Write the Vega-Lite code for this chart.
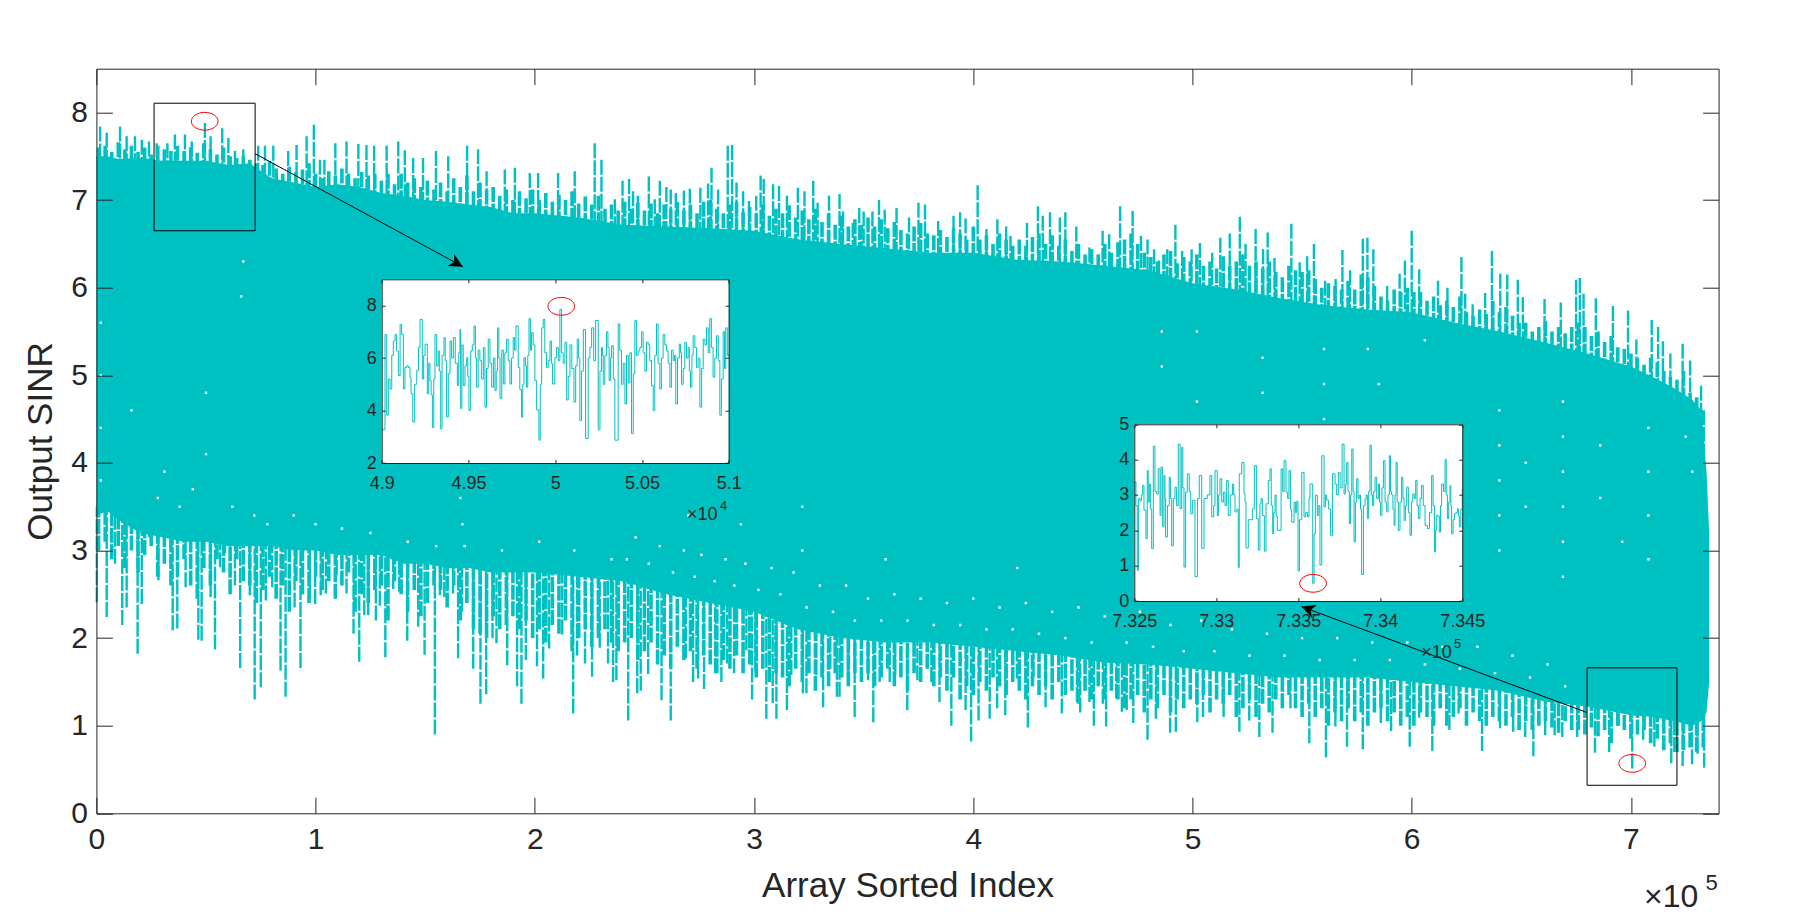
{
"$schema":"https://vega.github.io/schema/vega-lite/v6.json",
"autosize":"none",
"width":1622.2,
"height":744.6,
"padding":{"left":96.4,"top":68.7,"right":88.4,"bottom":102.7},
"background":"white",
"config":{"view":{"stroke":null},"font":"Liberation Sans","axis":{"grid":false,"domainColor":"#262626","tickColor":"#262626","labelColor":"#262626","titleColor":"#262626","labelFont":"Liberation Sans","titleFont":"Liberation Sans","titleFontWeight":"normal","labelFlush":false,"labelOverlap":false,"labelBound":false}},
"datasets":{
"upper":[{"idx":0.017,"sinr":7.84},{"idx":0.047,"sinr":7.77},{"idx":0.108,"sinr":7.84},{"idx":0.138,"sinr":7.73},{"idx":0.176,"sinr":7.73},{"idx":0.207,"sinr":7.69},{"idx":0.24,"sinr":7.67},{"idx":0.275,"sinr":7.65},{"idx":0.324,"sinr":7.65},{"idx":0.358,"sinr":7.75},{"idx":0.404,"sinr":7.75},{"idx":0.435,"sinr":7.67},{"idx":0.495,"sinr":7.88},{"idx":0.521,"sinr":7.73},{"idx":0.574,"sinr":7.82},{"idx":0.602,"sinr":7.71},{"idx":0.632,"sinr":7.56},{"idx":0.67,"sinr":7.58},{"idx":0.738,"sinr":7.62},{"idx":0.769,"sinr":7.62},{"idx":0.807,"sinr":7.62},{"idx":0.875,"sinr":7.56},{"idx":0.913,"sinr":7.63},{"idx":0.959,"sinr":7.73},{"idx":0.992,"sinr":7.86},{"idx":1.02,"sinr":7.46},{"idx":1.04,"sinr":7.46},{"idx":1.09,"sinr":7.65},{"idx":1.141,"sinr":7.67},{"idx":1.195,"sinr":7.64},{"idx":1.232,"sinr":7.63},{"idx":1.267,"sinr":7.62},{"idx":1.324,"sinr":7.62},{"idx":1.377,"sinr":7.67},{"idx":1.407,"sinr":7.57},{"idx":1.445,"sinr":7.48},{"idx":1.49,"sinr":7.48},{"idx":1.549,"sinr":7.56},{"idx":1.605,"sinr":7.5},{"idx":1.691,"sinr":7.62},{"idx":1.741,"sinr":7.58},{"idx":1.78,"sinr":7.33},{"idx":1.863,"sinr":7.35},{"idx":1.909,"sinr":7.37},{"idx":1.977,"sinr":7.31},{"idx":2.015,"sinr":7.31},{"idx":2.106,"sinr":7.31},{"idx":2.182,"sinr":7.33},{"idx":2.273,"sinr":7.65},{"idx":2.304,"sinr":7.46},{"idx":2.365,"sinr":7.01},{"idx":2.4,"sinr":7.22},{"idx":2.43,"sinr":7.24},{"idx":2.448,"sinr":7.1},{"idx":2.47,"sinr":7.05},{"idx":2.52,"sinr":7.27},{"idx":2.547,"sinr":7.01},{"idx":2.57,"sinr":7.22},{"idx":2.6,"sinr":7.15},{"idx":2.62,"sinr":7.12},{"idx":2.643,"sinr":7.08},{"idx":2.68,"sinr":7.11},{"idx":2.707,"sinr":7.13},{"idx":2.755,"sinr":7.14},{"idx":2.79,"sinr":7.19},{"idx":2.806,"sinr":7.37},{"idx":2.836,"sinr":7.12},{"idx":2.88,"sinr":7.62},{"idx":2.9,"sinr":7.63},{"idx":2.92,"sinr":7.2},{"idx":2.95,"sinr":7.1},{"idx":2.977,"sinr":6.99},{"idx":3.01,"sinr":7.05},{"idx":3.03,"sinr":7.28},{"idx":3.044,"sinr":7.24},{"idx":3.087,"sinr":7.18},{"idx":3.114,"sinr":7.16},{"idx":3.15,"sinr":7.05},{"idx":3.2,"sinr":7.14},{"idx":3.23,"sinr":7.1},{"idx":3.27,"sinr":7.22},{"idx":3.29,"sinr":6.97},{"idx":3.342,"sinr":7.05},{"idx":3.39,"sinr":7.07},{"idx":3.406,"sinr":6.87},{"idx":3.45,"sinr":6.74},{"idx":3.48,"sinr":6.91},{"idx":3.5,"sinr":6.87},{"idx":3.54,"sinr":6.87},{"idx":3.57,"sinr":7.0},{"idx":3.596,"sinr":6.89},{"idx":3.65,"sinr":6.91},{"idx":3.707,"sinr":6.8},{"idx":3.75,"sinr":6.97},{"idx":3.78,"sinr":6.95},{"idx":3.84,"sinr":6.76},{"idx":3.91,"sinr":6.82},{"idx":3.94,"sinr":6.86},{"idx":3.965,"sinr":6.79},{"idx":4.02,"sinr":7.17},{"idx":4.06,"sinr":6.67},{"idx":4.11,"sinr":6.78},{"idx":4.15,"sinr":6.7},{"idx":4.17,"sinr":6.59},{"idx":4.245,"sinr":6.74},{"idx":4.295,"sinr":6.93},{"idx":4.317,"sinr":6.82},{"idx":4.35,"sinr":6.86},{"idx":4.395,"sinr":6.8},{"idx":4.42,"sinr":6.86},{"idx":4.47,"sinr":6.7},{"idx":4.53,"sinr":6.46},{"idx":4.59,"sinr":6.65},{"idx":4.62,"sinr":6.61},{"idx":4.67,"sinr":6.93},{"idx":4.727,"sinr":6.875},{"idx":4.765,"sinr":6.59},{"idx":4.795,"sinr":6.55},{"idx":4.825,"sinr":6.44},{"idx":4.847,"sinr":6.31},{"idx":4.885,"sinr":6.44},{"idx":4.922,"sinr":6.72},{"idx":4.953,"sinr":6.42},{"idx":4.996,"sinr":6.44},{"idx":5.034,"sinr":6.51},{"idx":5.09,"sinr":6.4},{"idx":5.127,"sinr":6.57},{"idx":5.17,"sinr":6.62},{"idx":5.216,"sinr":6.81},{"idx":5.242,"sinr":6.5},{"idx":5.288,"sinr":6.67},{"idx":5.322,"sinr":6.44},{"idx":5.343,"sinr":6.63},{"idx":5.374,"sinr":6.34},{"idx":5.451,"sinr":6.73},{"idx":5.489,"sinr":6.29},{"idx":5.523,"sinr":6.36},{"idx":5.554,"sinr":6.5},{"idx":5.605,"sinr":6.08},{"idx":5.653,"sinr":6.1},{"idx":5.684,"sinr":6.43},{"idx":5.719,"sinr":6.2},{"idx":5.777,"sinr":6.56},{"idx":5.798,"sinr":6.57},{"idx":5.825,"sinr":6.44},{"idx":5.888,"sinr":6.02},{"idx":5.945,"sinr":6.16},{"idx":5.969,"sinr":6.31},{"idx":6.0,"sinr":6.65},{"idx":6.034,"sinr":6.21},{"idx":6.12,"sinr":6.08},{"idx":6.163,"sinr":6.0},{"idx":6.227,"sinr":6.35},{"idx":6.244,"sinr":5.93},{"idx":6.278,"sinr":5.81},{"idx":6.335,"sinr":5.94},{"idx":6.366,"sinr":6.42},{"idx":6.404,"sinr":6.16},{"idx":6.436,"sinr":6.15},{"idx":6.484,"sinr":6.09},{"idx":6.507,"sinr":5.89},{"idx":6.606,"sinr":5.87},{"idx":6.68,"sinr":5.83},{"idx":6.75,"sinr":6.09},{"idx":6.767,"sinr":6.11},{"idx":6.784,"sinr":5.93},{"idx":6.84,"sinr":5.88},{"idx":6.918,"sinr":5.79},{"idx":6.987,"sinr":5.74},{"idx":7.025,"sinr":5.41},{"idx":7.095,"sinr":5.63},{"idx":7.124,"sinr":5.55},{"idx":7.146,"sinr":5.39},{"idx":7.18,"sinr":5.25},{"idx":7.236,"sinr":5.36},{"idx":7.27,"sinr":5.17},{"idx":7.32,"sinr":4.88}],
"lower":[{"idx":0.002,"sinr":2.41},{"idx":0.047,"sinr":2.24},{"idx":0.085,"sinr":2.85},{"idx":0.118,"sinr":2.15},{"idx":0.138,"sinr":2.35},{"idx":0.188,"sinr":1.82},{"idx":0.207,"sinr":2.39},{"idx":0.24,"sinr":3.15},{"idx":0.283,"sinr":2.66},{"idx":0.348,"sinr":2.09},{"idx":0.369,"sinr":2.11},{"idx":0.407,"sinr":2.58},{"idx":0.465,"sinr":1.98},{"idx":0.48,"sinr":1.97},{"idx":0.521,"sinr":2.47},{"idx":0.541,"sinr":1.87},{"idx":0.564,"sinr":2.81},{"idx":0.587,"sinr":2.97},{"idx":0.632,"sinr":2.6},{"idx":0.656,"sinr":1.66},{"idx":0.7,"sinr":2.49},{"idx":0.722,"sinr":1.3},{"idx":0.75,"sinr":1.44},{"idx":0.773,"sinr":2.43},{"idx":0.802,"sinr":2.58},{"idx":0.84,"sinr":1.63},{"idx":0.863,"sinr":1.33},{"idx":0.904,"sinr":2.35},{"idx":0.931,"sinr":1.66},{"idx":0.974,"sinr":2.45},{"idx":0.998,"sinr":2.39},{"idx":1.023,"sinr":2.49},{"idx":1.047,"sinr":2.51},{"idx":1.096,"sinr":2.72},{"idx":1.141,"sinr":2.51},{"idx":1.173,"sinr":2.05},{"idx":1.199,"sinr":1.73},{"idx":1.222,"sinr":2.26},{"idx":1.24,"sinr":2.26},{"idx":1.275,"sinr":2.2},{"idx":1.293,"sinr":2.37},{"idx":1.318,"sinr":1.78},{"idx":1.354,"sinr":2.56},{"idx":1.381,"sinr":2.53},{"idx":1.418,"sinr":1.97},{"idx":1.468,"sinr":2.13},{"idx":1.497,"sinr":1.81},{"idx":1.544,"sinr":0.9},{"idx":1.567,"sinr":2.49},{"idx":1.587,"sinr":2.47},{"idx":1.627,"sinr":2.51},{"idx":1.65,"sinr":1.77},{"idx":1.668,"sinr":2.3},{"idx":1.719,"sinr":1.65},{"idx":1.752,"sinr":1.25},{"idx":1.778,"sinr":1.36},{"idx":1.807,"sinr":2.0},{"idx":1.825,"sinr":1.94},{"idx":1.874,"sinr":1.69},{"idx":1.919,"sinr":1.45},{"idx":1.939,"sinr":1.25},{"idx":1.959,"sinr":1.75},{"idx":2.01,"sinr":1.68},{"idx":2.038,"sinr":1.54},{"idx":2.065,"sinr":1.88},{"idx":2.125,"sinr":2.04},{"idx":2.175,"sinr":1.14},{"idx":2.193,"sinr":1.8},{"idx":2.229,"sinr":1.71},{"idx":2.261,"sinr":1.56},{"idx":2.296,"sinr":1.89},{"idx":2.334,"sinr":1.71},{"idx":2.357,"sinr":1.5},{"idx":2.372,"sinr":1.52},{"idx":2.426,"sinr":1.06},{"idx":2.467,"sinr":1.37},{"idx":2.483,"sinr":1.4},{"idx":2.517,"sinr":1.59},{"idx":2.578,"sinr":1.29},{"idx":2.62,"sinr":1.06},{"idx":2.689,"sinr":1.77},{"idx":2.722,"sinr":1.5},{"idx":2.745,"sinr":1.54},{"idx":2.772,"sinr":1.42},{"idx":2.822,"sinr":1.6},{"idx":2.851,"sinr":1.5},{"idx":2.877,"sinr":1.71},{"idx":2.909,"sinr":1.6},{"idx":2.965,"sinr":1.86},{"idx":2.991,"sinr":1.3},{"idx":3.006,"sinr":1.63},{"idx":3.056,"sinr":1.08},{"idx":3.085,"sinr":1.26},{"idx":3.102,"sinr":1.08},{"idx":3.15,"sinr":1.18},{"idx":3.17,"sinr":1.58},{"idx":3.223,"sinr":1.37},{"idx":3.239,"sinr":1.37},{"idx":3.284,"sinr":1.58},{"idx":3.315,"sinr":1.21},{"idx":3.348,"sinr":1.65},{"idx":3.378,"sinr":1.33},{"idx":3.39,"sinr":1.33},{"idx":3.429,"sinr":1.52},{"idx":3.459,"sinr":1.1},{"idx":3.52,"sinr":1.52},{"idx":3.544,"sinr":1.04},{"idx":3.573,"sinr":1.5},{"idx":3.619,"sinr":1.5},{"idx":3.644,"sinr":1.59},{"idx":3.699,"sinr":1.18},{"idx":3.745,"sinr":1.52},{"idx":3.809,"sinr":1.5},{"idx":3.846,"sinr":1.27},{"idx":3.9,"sinr":1.0},{"idx":3.965,"sinr":1.18},{"idx":3.99,"sinr":0.82},{"idx":4.024,"sinr":1.06},{"idx":4.075,"sinr":1.08},{"idx":4.109,"sinr":1.2},{"idx":4.146,"sinr":1.12},{"idx":4.199,"sinr":1.54},{"idx":4.249,"sinr":0.98},{"idx":4.275,"sinr":1.56},{"idx":4.33,"sinr":1.21},{"idx":4.404,"sinr":1.14},{"idx":4.473,"sinr":1.27},{"idx":4.488,"sinr":1.15},{"idx":4.53,"sinr":1.27},{"idx":4.55,"sinr":1.0},{"idx":4.591,"sinr":1.25},{"idx":4.606,"sinr":0.99},{"idx":4.652,"sinr":1.31},{"idx":4.678,"sinr":1.16},{"idx":4.7,"sinr":1.18},{"idx":4.73,"sinr":1.03},{"idx":4.795,"sinr":0.84},{"idx":4.833,"sinr":1.08},{"idx":4.898,"sinr":0.92},{"idx":4.924,"sinr":0.93},{"idx":5.022,"sinr":1.04},{"idx":5.048,"sinr":1.1},{"idx":5.142,"sinr":1.1},{"idx":5.214,"sinr":0.93},{"idx":5.259,"sinr":1.06},{"idx":5.305,"sinr":0.87},{"idx":5.365,"sinr":0.92},{"idx":5.447,"sinr":1.2},{"idx":5.533,"sinr":0.8},{"idx":5.609,"sinr":0.64},{"idx":5.652,"sinr":0.99},{"idx":5.705,"sinr":0.76},{"idx":5.777,"sinr":0.73},{"idx":5.859,"sinr":1.03},{"idx":5.906,"sinr":0.94},{"idx":5.991,"sinr":0.76},{"idx":6.034,"sinr":1.09},{"idx":6.094,"sinr":0.71},{"idx":6.172,"sinr":0.95},{"idx":6.214,"sinr":1.14},{"idx":6.321,"sinr":0.71},{"idx":6.403,"sinr":0.97},{"idx":6.463,"sinr":0.93},{"idx":6.518,"sinr":0.87},{"idx":6.555,"sinr":0.65},{"idx":6.609,"sinr":0.89},{"idx":6.652,"sinr":0.89},{"idx":6.687,"sinr":0.87},{"idx":6.755,"sinr":0.87},{"idx":6.836,"sinr":0.69},{"idx":6.901,"sinr":0.7},{"idx":6.944,"sinr":1.0},{"idx":7.006,"sinr":0.51},{"idx":7.056,"sinr":0.84},{"idx":7.107,"sinr":0.76},{"idx":7.184,"sinr":0.57},{"idx":7.198,"sinr":0.7},{"idx":7.236,"sinr":0.54},{"idx":7.279,"sinr":0.56},{"idx":7.304,"sinr":0.68},{"idx":7.334,"sinr":0.52}],
"fringe":[{"idx":0.01,"hi":7.6,"lo":3.0},{"idx":0.04,"hi":7.62,"lo":3.1},{"idx":0.07,"hi":7.55,"lo":2.9},{"idx":0.1,"hi":7.66,"lo":3.05},{"idx":0.13,"hi":7.58,"lo":2.8},{"idx":0.16,"hi":7.62,"lo":3.0},{"idx":0.19,"hi":7.55,"lo":2.75},{"idx":0.22,"hi":7.6,"lo":2.95},{"idx":0.25,"hi":7.52,"lo":3.05},{"idx":0.28,"hi":7.62,"lo":2.7},{"idx":0.31,"hi":7.58,"lo":2.85},{"idx":0.34,"hi":7.56,"lo":2.6},{"idx":0.37,"hi":7.62,"lo":2.7},{"idx":0.4,"hi":7.56,"lo":2.9},{"idx":0.43,"hi":7.6,"lo":2.6},{"idx":0.46,"hi":7.54,"lo":2.45},{"idx":0.49,"hi":7.65,"lo":2.8},{"idx":0.52,"hi":7.58,"lo":2.6},{"idx":0.55,"hi":7.52,"lo":2.9},{"idx":0.58,"hi":7.6,"lo":2.75},{"idx":0.61,"hi":7.5,"lo":2.5},{"idx":0.64,"hi":7.48,"lo":2.9},{"idx":0.67,"hi":7.5,"lo":2.65},{"idx":0.7,"hi":7.46,"lo":2.6},{"idx":0.73,"hi":7.42,"lo":2.4},{"idx":0.76,"hi":7.4,"lo":2.55},{"idx":0.79,"hi":7.45,"lo":2.7},{"idx":0.82,"hi":7.36,"lo":2.45},{"idx":0.85,"hi":7.3,"lo":2.6},{"idx":0.88,"hi":7.38,"lo":2.3},{"idx":0.91,"hi":7.32,"lo":2.65},{"idx":0.94,"hi":7.35,"lo":2.5},{"idx":0.97,"hi":7.42,"lo":2.4},{"idx":1.0,"hi":7.3,"lo":2.7},{"idx":1.03,"hi":7.25,"lo":2.55},{"idx":1.06,"hi":7.33,"lo":2.65},{"idx":1.09,"hi":7.28,"lo":2.45},{"idx":1.12,"hi":7.36,"lo":2.6},{"idx":1.15,"hi":7.3,"lo":2.75},{"idx":1.18,"hi":7.25,"lo":2.3},{"idx":1.21,"hi":7.32,"lo":2.5},{"idx":1.24,"hi":7.28,"lo":2.4},{"idx":1.27,"hi":7.3,"lo":2.55},{"idx":1.3,"hi":7.22,"lo":2.6},{"idx":1.33,"hi":7.3,"lo":2.2},{"idx":1.36,"hi":7.18,"lo":2.65},{"idx":1.39,"hi":7.3,"lo":2.5},{"idx":1.42,"hi":7.2,"lo":2.3},{"idx":1.45,"hi":7.25,"lo":2.55},{"idx":1.48,"hi":7.15,"lo":2.25},{"idx":1.51,"hi":7.22,"lo":2.4},{"idx":1.54,"hi":7.12,"lo":2.6},{"idx":1.57,"hi":7.2,"lo":2.55},{"idx":1.6,"hi":7.1,"lo":2.35},{"idx":1.63,"hi":7.25,"lo":2.6},{"idx":1.66,"hi":7.15,"lo":2.2},{"idx":1.69,"hi":7.28,"lo":2.4},{"idx":1.72,"hi":7.1,"lo":2.1},{"idx":1.75,"hi":7.2,"lo":2.05},{"idx":1.78,"hi":7.12,"lo":2.0},{"idx":1.81,"hi":7.15,"lo":2.25},{"idx":1.84,"hi":7.05,"lo":2.1},{"idx":1.87,"hi":7.12,"lo":2.15},{"idx":1.9,"hi":7.0,"lo":2.25},{"idx":1.93,"hi":7.1,"lo":2.1},{"idx":1.96,"hi":7.02,"lo":2.2},{"idx":1.99,"hi":7.12,"lo":2.0},{"idx":2.02,"hi":7.0,"lo":2.1},{"idx":2.05,"hi":7.08,"lo":1.95},{"idx":2.08,"hi":6.98,"lo":2.15},{"idx":2.11,"hi":7.06,"lo":2.05},{"idx":2.14,"hi":7.0,"lo":2.2},{"idx":2.17,"hi":7.1,"lo":1.85},{"idx":2.2,"hi":6.96,"lo":2.0},{"idx":2.23,"hi":7.04,"lo":2.1},{"idx":2.26,"hi":6.95,"lo":1.9},{"idx":2.29,"hi":7.05,"lo":2.0},{"idx":2.32,"hi":6.9,"lo":2.1},{"idx":2.35,"hi":6.95,"lo":1.95},{"idx":2.38,"hi":6.88,"lo":1.85},{"idx":2.41,"hi":6.98,"lo":1.95},{"idx":2.44,"hi":6.9,"lo":2.0},{"idx":2.47,"hi":6.97,"lo":1.75},{"idx":2.5,"hi":6.88,"lo":1.85},{"idx":2.53,"hi":6.96,"lo":1.95},{"idx":2.56,"hi":6.85,"lo":1.7},{"idx":2.59,"hi":6.95,"lo":1.8},{"idx":2.62,"hi":6.9,"lo":1.65},{"idx":2.65,"hi":6.98,"lo":1.9},{"idx":2.68,"hi":6.88,"lo":1.75},{"idx":2.71,"hi":6.95,"lo":1.85},{"idx":2.74,"hi":6.85,"lo":1.65},{"idx":2.77,"hi":6.98,"lo":1.8},{"idx":2.8,"hi":7.0,"lo":1.7},{"idx":2.83,"hi":6.9,"lo":1.6},{"idx":2.86,"hi":6.85,"lo":1.75},{"idx":2.89,"hi":6.95,"lo":1.65},{"idx":2.92,"hi":6.98,"lo":1.8},{"idx":2.95,"hi":6.86,"lo":1.6},{"idx":2.98,"hi":6.92,"lo":1.7},{"idx":3.01,"hi":6.85,"lo":1.55},{"idx":3.04,"hi":6.95,"lo":1.65},{"idx":3.07,"hi":6.82,"lo":1.5},{"idx":3.1,"hi":6.9,"lo":1.6},{"idx":3.13,"hi":6.85,"lo":1.55},{"idx":3.16,"hi":6.94,"lo":1.45},{"idx":3.19,"hi":6.8,"lo":1.65},{"idx":3.22,"hi":6.88,"lo":1.5},{"idx":3.25,"hi":6.78,"lo":1.6},{"idx":3.28,"hi":6.9,"lo":1.4},{"idx":3.31,"hi":6.75,"lo":1.55},{"idx":3.34,"hi":6.85,"lo":1.45},{"idx":3.37,"hi":6.72,"lo":1.6},{"idx":3.4,"hi":6.82,"lo":1.55},{"idx":3.43,"hi":6.7,"lo":1.45},{"idx":3.46,"hi":6.78,"lo":1.6},{"idx":3.49,"hi":6.72,"lo":1.5},{"idx":3.52,"hi":6.8,"lo":1.6},{"idx":3.55,"hi":6.7,"lo":1.45},{"idx":3.58,"hi":6.78,"lo":1.55},{"idx":3.61,"hi":6.68,"lo":1.65},{"idx":3.64,"hi":6.75,"lo":1.45},{"idx":3.67,"hi":6.66,"lo":1.55},{"idx":3.7,"hi":6.62,"lo":1.4},{"idx":3.73,"hi":6.7,"lo":1.6},{"idx":3.76,"hi":6.74,"lo":1.5},{"idx":3.79,"hi":6.62,"lo":1.65},{"idx":3.82,"hi":6.6,"lo":1.45},{"idx":3.85,"hi":6.66,"lo":1.55},{"idx":3.88,"hi":6.58,"lo":1.4},{"idx":3.91,"hi":6.68,"lo":1.55},{"idx":3.94,"hi":6.62,"lo":1.3},{"idx":3.97,"hi":6.55,"lo":1.45},{"idx":4.0,"hi":6.7,"lo":1.35},{"idx":4.03,"hi":6.55,"lo":1.5},{"idx":4.06,"hi":6.6,"lo":1.4},{"idx":4.09,"hi":6.5,"lo":1.55},{"idx":4.12,"hi":6.62,"lo":1.45},{"idx":4.15,"hi":6.55,"lo":1.35},{"idx":4.18,"hi":6.48,"lo":1.5},{"idx":4.21,"hi":6.55,"lo":1.4},{"idx":4.24,"hi":6.48,"lo":1.3},{"idx":4.27,"hi":6.58,"lo":1.45},{"idx":4.3,"hi":6.62,"lo":1.35},{"idx":4.33,"hi":6.5,"lo":1.45},{"idx":4.36,"hi":6.6,"lo":1.3},{"idx":4.39,"hi":6.48,"lo":1.5},{"idx":4.42,"hi":6.55,"lo":1.35},{"idx":4.45,"hi":6.42,"lo":1.4},{"idx":4.48,"hi":6.5,"lo":1.25},{"idx":4.51,"hi":6.38,"lo":1.4},{"idx":4.54,"hi":6.44,"lo":1.3},{"idx":4.57,"hi":6.38,"lo":1.45},{"idx":4.6,"hi":6.5,"lo":1.3},{"idx":4.63,"hi":6.4,"lo":1.4},{"idx":4.66,"hi":6.52,"lo":1.3},{"idx":4.69,"hi":6.55,"lo":1.2},{"idx":4.72,"hi":6.62,"lo":1.3},{"idx":4.75,"hi":6.5,"lo":1.35},{"idx":4.78,"hi":6.4,"lo":1.15},{"idx":4.81,"hi":6.35,"lo":1.3},{"idx":4.84,"hi":6.3,"lo":1.2},{"idx":4.87,"hi":6.38,"lo":1.35},{"idx":4.9,"hi":6.42,"lo":1.15},{"idx":4.93,"hi":6.28,"lo":1.3},{"idx":4.96,"hi":6.35,"lo":1.2},{"idx":4.99,"hi":6.3,"lo":1.3},{"idx":5.02,"hi":6.38,"lo":1.25},{"idx":5.05,"hi":6.25,"lo":1.35},{"idx":5.08,"hi":6.3,"lo":1.15},{"idx":5.11,"hi":6.22,"lo":1.3},{"idx":5.14,"hi":6.36,"lo":1.25},{"idx":5.17,"hi":6.25,"lo":1.35},{"idx":5.2,"hi":6.3,"lo":1.1},{"idx":5.23,"hi":6.38,"lo":1.2},{"idx":5.26,"hi":6.25,"lo":1.3},{"idx":5.29,"hi":6.3,"lo":1.1},{"idx":5.32,"hi":6.22,"lo":1.25},{"idx":5.35,"hi":6.3,"lo":1.15},{"idx":5.38,"hi":6.18,"lo":1.3},{"idx":5.41,"hi":6.12,"lo":1.2},{"idx":5.44,"hi":6.25,"lo":1.35},{"idx":5.47,"hi":6.2,"lo":1.2},{"idx":5.5,"hi":6.18,"lo":1.1},{"idx":5.53,"hi":6.2,"lo":1.25},{"idx":5.56,"hi":6.1,"lo":1.1},{"idx":5.59,"hi":6.0,"lo":1.2},{"idx":5.62,"hi":6.05,"lo":1.0},{"idx":5.65,"hi":6.02,"lo":1.15},{"idx":5.68,"hi":5.98,"lo":1.05},{"idx":5.71,"hi":6.08,"lo":1.2},{"idx":5.74,"hi":5.98,"lo":1.05},{"idx":5.77,"hi":6.15,"lo":1.15},{"idx":5.8,"hi":6.12,"lo":1.0},{"idx":5.83,"hi":6.02,"lo":1.15},{"idx":5.86,"hi":5.9,"lo":1.2},{"idx":5.89,"hi":5.85,"lo":1.05},{"idx":5.92,"hi":5.98,"lo":1.15},{"idx":5.95,"hi":5.95,"lo":1.0},{"idx":5.98,"hi":6.0,"lo":1.1},{"idx":6.01,"hi":5.95,"lo":1.0},{"idx":6.04,"hi":5.95,"lo":1.15},{"idx":6.07,"hi":5.85,"lo":1.1},{"idx":6.1,"hi":5.9,"lo":1.0},{"idx":6.13,"hi":5.8,"lo":1.2},{"idx":6.16,"hi":5.85,"lo":1.0},{"idx":6.19,"hi":5.78,"lo":1.1},{"idx":6.22,"hi":5.9,"lo":1.2},{"idx":6.25,"hi":5.72,"lo":1.0},{"idx":6.28,"hi":5.68,"lo":1.15},{"idx":6.31,"hi":5.75,"lo":1.05},{"idx":6.34,"hi":5.7,"lo":1.0},{"idx":6.37,"hi":5.85,"lo":1.1},{"idx":6.4,"hi":5.72,"lo":1.05},{"idx":6.43,"hi":5.78,"lo":1.0},{"idx":6.46,"hi":5.68,"lo":1.1},{"idx":6.49,"hi":5.6,"lo":0.95},{"idx":6.52,"hi":5.6,"lo":1.05},{"idx":6.55,"hi":5.5,"lo":0.95},{"idx":6.58,"hi":5.55,"lo":1.0},{"idx":6.61,"hi":5.62,"lo":1.05},{"idx":6.64,"hi":5.5,"lo":0.98},{"idx":6.67,"hi":5.55,"lo":0.92},{"idx":6.7,"hi":5.48,"lo":1.05},{"idx":6.73,"hi":5.55,"lo":0.95},{"idx":6.76,"hi":5.6,"lo":0.95},{"idx":6.79,"hi":5.55,"lo":0.9},{"idx":6.82,"hi":5.45,"lo":0.98},{"idx":6.85,"hi":5.5,"lo":0.88},{"idx":6.88,"hi":5.38,"lo":0.95},{"idx":6.91,"hi":5.45,"lo":0.8},{"idx":6.94,"hi":5.32,"lo":1.0},{"idx":6.97,"hi":5.3,"lo":0.95},{"idx":7.0,"hi":5.25,"lo":0.85},{"idx":7.03,"hi":5.2,"lo":0.9},{"idx":7.06,"hi":5.12,"lo":0.95},{"idx":7.09,"hi":5.2,"lo":0.8},{"idx":7.12,"hi":5.15,"lo":0.85},{"idx":7.15,"hi":5.05,"lo":0.72},{"idx":7.18,"hi":4.98,"lo":0.8},{"idx":7.21,"hi":4.95,"lo":0.7},{"idx":7.24,"hi":5.05,"lo":0.72},{"idx":7.27,"hi":4.8,"lo":0.75},{"idx":7.3,"hi":4.75,"lo":0.7},{"idx":7.33,"hi":4.6,"lo":0.75}],
"core":[{"idx":0,"lo":3.4,"hi":7.5},{"idx":0.05,"lo":3.45,"hi":7.5},{"idx":0.1,"lo":3.35,"hi":7.47},{"idx":0.2,"lo":3.2,"hi":7.48},{"idx":0.3,"lo":3.15,"hi":7.45},{"idx":0.4,"lo":3.1,"hi":7.45},{"idx":0.5,"lo":3.1,"hi":7.45},{"idx":0.6,"lo":3.05,"hi":7.4},{"idx":0.7,"lo":3.05,"hi":7.42},{"idx":0.8,"lo":3.05,"hi":7.25},{"idx":0.9,"lo":3.0,"hi":7.2},{"idx":1.0,"lo":3.0,"hi":7.15},{"idx":1.1,"lo":2.95,"hi":7.18},{"idx":1.2,"lo":2.95,"hi":7.15},{"idx":1.3,"lo":2.95,"hi":7.08},{"idx":1.4,"lo":2.85,"hi":7.05},{"idx":1.5,"lo":2.85,"hi":7.0},{"idx":1.6,"lo":2.8,"hi":6.98},{"idx":1.7,"lo":2.8,"hi":6.95},{"idx":1.8,"lo":2.75,"hi":6.92},{"idx":1.9,"lo":2.75,"hi":6.85},{"idx":2.0,"lo":2.75,"hi":6.85},{"idx":2.2,"lo":2.7,"hi":6.8},{"idx":2.4,"lo":2.65,"hi":6.72},{"idx":2.6,"lo":2.5,"hi":6.7},{"idx":2.8,"lo":2.4,"hi":6.68},{"idx":3.0,"lo":2.3,"hi":6.65},{"idx":3.2,"lo":2.1,"hi":6.55},{"idx":3.4,"lo":2.0,"hi":6.5},{"idx":3.6,"lo":1.95,"hi":6.45},{"idx":3.8,"lo":1.95,"hi":6.4},{"idx":4.0,"lo":1.9,"hi":6.4},{"idx":4.2,"lo":1.85,"hi":6.32},{"idx":4.4,"lo":1.8,"hi":6.3},{"idx":4.6,"lo":1.72,"hi":6.25},{"idx":4.8,"lo":1.7,"hi":6.2},{"idx":5.0,"lo":1.65,"hi":6.05},{"idx":5.2,"lo":1.6,"hi":5.98},{"idx":5.4,"lo":1.55,"hi":5.88},{"idx":5.6,"lo":1.55,"hi":5.8},{"idx":5.8,"lo":1.55,"hi":5.75},{"idx":6.0,"lo":1.5,"hi":5.72},{"idx":6.2,"lo":1.45,"hi":5.6},{"idx":6.4,"lo":1.4,"hi":5.5},{"idx":6.6,"lo":1.28,"hi":5.38},{"idx":6.8,"lo":1.22,"hi":5.25},{"idx":7.0,"lo":1.12,"hi":5.1},{"idx":7.1,"lo":1.1,"hi":4.98},{"idx":7.2,"lo":1.05,"hi":4.85},{"idx":7.28,"lo":1.0,"hi":4.72},{"idx":7.32,"lo":1.05,"hi":4.6},{"idx":7.345,"lo":1.15,"hi":3.9},{"idx":7.357,"lo":1.5,"hi":3.2}],
"specks":[{"idx":0.02,"sinr":5.6},{"idx":0.02,"sinr":5.0},{"idx":0.02,"sinr":4.4},{"idx":0.02,"sinr":3.8},{"idx":0.16,"sinr":4.6},{"idx":0.28,"sinr":3.6},{"idx":0.31,"sinr":3.9},{"idx":0.38,"sinr":3.5},{"idx":0.44,"sinr":3.7},{"idx":0.5,"sinr":4.1},{"idx":0.5,"sinr":4.8},{"idx":0.62,"sinr":3.5},{"idx":0.66,"sinr":5.9},{"idx":0.67,"sinr":6.3},{"idx":0.72,"sinr":3.4},{"idx":0.78,"sinr":3.3},{"idx":0.9,"sinr":3.4},{"idx":1.0,"sinr":3.3},{"idx":1.12,"sinr":3.25},{"idx":1.25,"sinr":3.2},{"idx":1.42,"sinr":3.1},{"idx":1.55,"sinr":3.05},{"idx":1.68,"sinr":3.05},{"idx":1.85,"sinr":3.0},{"idx":2.02,"sinr":3.1},{"idx":2.18,"sinr":3.0},{"idx":2.35,"sinr":2.9},{"idx":2.42,"sinr":2.9},{"idx":2.46,"sinr":3.15},{"idx":2.52,"sinr":2.85},{"idx":2.57,"sinr":3.05},{"idx":2.63,"sinr":2.75},{"idx":2.68,"sinr":3.0},{"idx":2.73,"sinr":2.7},{"idx":2.76,"sinr":2.95},{"idx":2.82,"sinr":2.65},{"idx":2.87,"sinr":2.9},{"idx":2.91,"sinr":2.6},{"idx":2.96,"sinr":2.85},{"idx":3.02,"sinr":2.55},{"idx":3.08,"sinr":2.8},{"idx":3.12,"sinr":2.5},{"idx":3.18,"sinr":2.75},{"idx":3.24,"sinr":2.35},{"idx":3.3,"sinr":2.6},{"idx":3.36,"sinr":2.3},{"idx":3.42,"sinr":2.6},{"idx":3.46,"sinr":2.2},{"idx":3.52,"sinr":2.45},{"idx":3.58,"sinr":2.2},{"idx":3.64,"sinr":2.5},{"idx":3.7,"sinr":2.2},{"idx":3.76,"sinr":2.45},{"idx":3.82,"sinr":2.15},{"idx":3.88,"sinr":2.4},{"idx":3.94,"sinr":2.15},{"idx":4.0,"sinr":2.45},{"idx":4.06,"sinr":2.1},{"idx":4.12,"sinr":2.35},{"idx":4.18,"sinr":2.1},{"idx":4.24,"sinr":2.4},{"idx":4.3,"sinr":2.05},{"idx":4.36,"sinr":2.3},{"idx":4.42,"sinr":2.0},{"idx":4.48,"sinr":2.35},{"idx":4.54,"sinr":1.95},{"idx":4.6,"sinr":2.25},{"idx":4.7,"sinr":1.95},{"idx":4.76,"sinr":2.3},{"idx":4.82,"sinr":1.9},{"idx":4.9,"sinr":2.15},{"idx":4.96,"sinr":1.85},{"idx":5.04,"sinr":2.2},{"idx":5.1,"sinr":1.85},{"idx":5.18,"sinr":2.1},{"idx":5.26,"sinr":1.8},{"idx":5.34,"sinr":2.05},{"idx":5.42,"sinr":1.8},{"idx":5.5,"sinr":2.0},{"idx":5.58,"sinr":1.75},{"idx":5.66,"sinr":2.0},{"idx":5.74,"sinr":1.75},{"idx":5.82,"sinr":1.95},{"idx":5.9,"sinr":1.75},{"idx":5.98,"sinr":1.95},{"idx":6.06,"sinr":1.7},{"idx":6.14,"sinr":1.9},{"idx":6.22,"sinr":1.65},{"idx":6.3,"sinr":1.9},{"idx":6.38,"sinr":1.6},{"idx":6.46,"sinr":1.8},{"idx":6.54,"sinr":1.55},{"idx":6.62,"sinr":1.7},{"idx":6.7,"sinr":1.45},{"idx":6.4,"sinr":4.6},{"idx":6.4,"sinr":4.2},{"idx":6.4,"sinr":3.8},{"idx":6.4,"sinr":3.4},{"idx":6.4,"sinr":3.0},{"idx":6.69,"sinr":4.7},{"idx":6.69,"sinr":4.3},{"idx":6.69,"sinr":3.9},{"idx":6.69,"sinr":3.5},{"idx":6.69,"sinr":3.1},{"idx":6.69,"sinr":2.7},{"idx":6.52,"sinr":4.0},{"idx":6.52,"sinr":3.5},{"idx":7.08,"sinr":4.4},{"idx":7.08,"sinr":3.9},{"idx":7.08,"sinr":3.4},{"idx":7.08,"sinr":2.9},{"idx":6.86,"sinr":4.2},{"idx":6.86,"sinr":3.6},{"idx":6.96,"sinr":3.1},{"idx":5.32,"sinr":5.2},{"idx":5.32,"sinr":4.8},{"idx":5.6,"sinr":5.3},{"idx":5.6,"sinr":4.9},{"idx":5.6,"sinr":4.5},{"idx":5.8,"sinr":5.3},{"idx":5.85,"sinr":4.9},{"idx":6.06,"sinr":5.4},{"idx":4.86,"sinr":5.5},{"idx":4.86,"sinr":5.1},{"idx":5.02,"sinr":5.5},{"idx":5.02,"sinr":4.7},{"idx":3.22,"sinr":3.0},{"idx":3.22,"sinr":3.5},{"idx":1.66,"sinr":3.6},{"idx":1.67,"sinr":3.3},{"idx":2.7,"sinr":3.4},{"idx":2.94,"sinr":3.3},{"idx":3.6,"sinr":2.9},{"idx":4.2,"sinr":2.8},{"idx":4.75,"sinr":2.7},{"idx":7.25,"sinr":4.3},{"idx":7.28,"sinr":3.9}],
"zoomA":[{"idx":4.9,"sinr":3.27},{"idx":4.9019,"sinr":6.9},{"idx":4.9029,"sinr":3.82},{"idx":4.9048,"sinr":4.82},{"idx":4.9067,"sinr":6.65},{"idx":4.9077,"sinr":6.9},{"idx":4.9086,"sinr":6.27},{"idx":4.9096,"sinr":5.33},{"idx":4.9106,"sinr":7.28},{"idx":4.9115,"sinr":6.9},{"idx":4.9125,"sinr":4.82},{"idx":4.9134,"sinr":5.64},{"idx":4.9154,"sinr":5.64},{"idx":4.9163,"sinr":5.27},{"idx":4.9169,"sinr":4.64},{"idx":4.9179,"sinr":3.56},{"idx":4.9202,"sinr":5.52},{"idx":4.9221,"sinr":7.47},{"idx":4.9234,"sinr":5.2},{"idx":4.925,"sinr":6.53},{"idx":4.9263,"sinr":4.64},{"idx":4.9278,"sinr":5.14},{"idx":4.9292,"sinr":3.35},{"idx":4.9307,"sinr":6.9},{"idx":4.9317,"sinr":5.7},{"idx":4.9326,"sinr":6.27},{"idx":4.934,"sinr":3.3},{"idx":4.9359,"sinr":6.78},{"idx":4.9374,"sinr":3.75},{"idx":4.9394,"sinr":6.65},{"idx":4.9413,"sinr":6.78},{"idx":4.9436,"sinr":4.95},{"idx":4.9451,"sinr":7.09},{"idx":4.9455,"sinr":4.08},{"idx":4.947,"sinr":4.95},{"idx":4.949,"sinr":6.02},{"idx":4.9503,"sinr":4.0},{"idx":4.9513,"sinr":6.27},{"idx":4.9532,"sinr":7.22},{"idx":4.9547,"sinr":4.89},{"idx":4.9566,"sinr":5.9},{"idx":4.9586,"sinr":6.4},{"idx":4.9595,"sinr":4.13},{"idx":4.9614,"sinr":6.72},{"idx":4.9634,"sinr":4.89},{"idx":4.9653,"sinr":4.76},{"idx":4.9668,"sinr":7.15},{"idx":4.9682,"sinr":4.45},{"idx":4.9701,"sinr":5.01},{"idx":4.972,"sinr":6.72},{"idx":4.9739,"sinr":5.01},{"idx":4.9758,"sinr":6.78},{"idx":4.9774,"sinr":7.22},{"idx":4.9787,"sinr":5.64},{"idx":4.9806,"sinr":3.75},{"idx":4.982,"sinr":6.02},{"idx":4.9835,"sinr":4.89},{"idx":4.9849,"sinr":7.5},{"idx":4.9864,"sinr":6.97},{"idx":4.9883,"sinr":5.14},{"idx":4.9893,"sinr":4.03},{"idx":4.9906,"sinr":2.87},{"idx":4.9922,"sinr":7.15},{"idx":4.9931,"sinr":7.47},{"idx":4.995,"sinr":5.64},{"idx":4.997,"sinr":6.65},{"idx":4.9985,"sinr":5.01},{"idx":4.9998,"sinr":6.02},{"idx":5.0008,"sinr":6.4},{"idx":5.0027,"sinr":7.85},{"idx":5.0037,"sinr":6.2},{"idx":5.0056,"sinr":6.6},{"idx":5.0066,"sinr":4.4},{"idx":5.0085,"sinr":6.5},{"idx":5.0108,"sinr":4.32},{"idx":5.0127,"sinr":6.72},{"idx":5.0142,"sinr":3.62},{"idx":5.0162,"sinr":7.09},{"idx":5.0175,"sinr":2.93},{"idx":5.019,"sinr":6.0},{"idx":5.021,"sinr":7.15},{"idx":5.0233,"sinr":7.43},{"idx":5.0248,"sinr":3.27},{"idx":5.0267,"sinr":6.4},{"idx":5.0277,"sinr":5.0},{"idx":5.0296,"sinr":7.0},{"idx":5.0311,"sinr":5.14},{"idx":5.0325,"sinr":6.47},{"idx":5.0344,"sinr":2.87},{"idx":5.0363,"sinr":7.3},{"idx":5.0382,"sinr":5.0},{"idx":5.0402,"sinr":4.25},{"idx":5.0421,"sinr":5.05},{"idx":5.044,"sinr":3.12},{"idx":5.0459,"sinr":7.43},{"idx":5.0478,"sinr":6.27},{"idx":5.0498,"sinr":7.0},{"idx":5.0517,"sinr":5.5},{"idx":5.0536,"sinr":6.5},{"idx":5.0555,"sinr":4.95},{"idx":5.0565,"sinr":4.0},{"idx":5.0584,"sinr":7.3},{"idx":5.0603,"sinr":4.82},{"idx":5.0622,"sinr":6.9},{"idx":5.0642,"sinr":6.27},{"idx":5.0661,"sinr":4.89},{"idx":5.068,"sinr":5.9},{"idx":5.0695,"sinr":4.25},{"idx":5.0715,"sinr":6.53},{"idx":5.0728,"sinr":5.0},{"idx":5.0747,"sinr":6.6},{"idx":5.0766,"sinr":6.4},{"idx":5.078,"sinr":4.89},{"idx":5.0795,"sinr":6.85},{"idx":5.0814,"sinr":5.64},{"idx":5.0834,"sinr":4.13},{"idx":5.0853,"sinr":6.72},{"idx":5.0872,"sinr":7.15},{"idx":5.0891,"sinr":7.5},{"idx":5.091,"sinr":5.27},{"idx":5.093,"sinr":6.85},{"idx":5.0949,"sinr":3.82},{"idx":5.0968,"sinr":7.0},{"idx":5.0983,"sinr":7.15},{"idx":5.1,"sinr":6.15},{"idx":4.9038,"sinr":5.2},{"idx":4.9058,"sinr":6.1},{"idx":4.9144,"sinr":5.7},{"idx":4.919,"sinr":5.0},{"idx":4.9212,"sinr":6.4},{"idx":4.9242,"sinr":6.1},{"idx":4.9271,"sinr":5.8},{"idx":4.9285,"sinr":4.6},{"idx":4.93,"sinr":5.2},{"idx":4.9332,"sinr":5.5},{"idx":4.9348,"sinr":6.1},{"idx":4.9366,"sinr":5.9},{"idx":4.9384,"sinr":5.4},{"idx":4.9403,"sinr":6.0},{"idx":4.9424,"sinr":5.8},{"idx":4.9444,"sinr":6.2},{"idx":4.9462,"sinr":6.5},{"idx":4.948,"sinr":5.7},{"idx":4.9496,"sinr":5.3},{"idx":4.9522,"sinr":6.5},{"idx":4.954,"sinr":6.0},{"idx":4.9556,"sinr":6.3},{"idx":4.9576,"sinr":5.2},{"idx":4.9604,"sinr":5.6},{"idx":4.9624,"sinr":5.8},{"idx":4.9644,"sinr":6.0},{"idx":4.966,"sinr":5.5},{"idx":4.9675,"sinr":6.0},{"idx":4.9692,"sinr":6.3},{"idx":4.971,"sinr":6.2},{"idx":4.9729,"sinr":5.9},{"idx":4.9748,"sinr":6.0},{"idx":4.9766,"sinr":6.3},{"idx":4.9796,"sinr":4.8},{"idx":4.9813,"sinr":5.0},{"idx":4.9828,"sinr":5.7},{"idx":4.9842,"sinr":6.1},{"idx":4.9857,"sinr":6.3},{"idx":4.9873,"sinr":6.5},{"idx":4.9914,"sinr":5.0},{"idx":4.994,"sinr":6.2},{"idx":4.996,"sinr":5.9},{"idx":4.9978,"sinr":5.8},{"idx":5.0018,"sinr":5.9},{"idx":5.0046,"sinr":5.8},{"idx":5.0075,"sinr":5.3},{"idx":5.0096,"sinr":5.6},{"idx":5.0118,"sinr":5.7},{"idx":5.0135,"sinr":6.0},{"idx":5.0152,"sinr":5.5},{"idx":5.02,"sinr":6.4},{"idx":5.0222,"sinr":5.9},{"idx":5.0258,"sinr":5.5},{"idx":5.0272,"sinr":6.1},{"idx":5.0286,"sinr":6.1},{"idx":5.0304,"sinr":6.4},{"idx":5.0318,"sinr":6.0},{"idx":5.0335,"sinr":5.2},{"idx":5.0372,"sinr":6.3},{"idx":5.0392,"sinr":5.8},{"idx":5.0411,"sinr":6.1},{"idx":5.043,"sinr":6.2},{"idx":5.045,"sinr":5.4},{"idx":5.0468,"sinr":6.1},{"idx":5.0488,"sinr":6.4},{"idx":5.0507,"sinr":6.2},{"idx":5.0526,"sinr":6.6},{"idx":5.0545,"sinr":5.9},{"idx":5.0574,"sinr":6.1},{"idx":5.0593,"sinr":5.8},{"idx":5.0612,"sinr":6.0},{"idx":5.0632,"sinr":6.5},{"idx":5.0651,"sinr":5.8},{"idx":5.067,"sinr":6.3},{"idx":5.0688,"sinr":6.1},{"idx":5.0705,"sinr":6.0},{"idx":5.0722,"sinr":6.2},{"idx":5.0738,"sinr":5.6},{"idx":5.0757,"sinr":6.0},{"idx":5.0773,"sinr":5.5},{"idx":5.0788,"sinr":6.1},{"idx":5.0805,"sinr":6.4},{"idx":5.0824,"sinr":6.0},{"idx":5.0844,"sinr":5.6},{"idx":5.0863,"sinr":6.5},{"idx":5.0882,"sinr":6.2},{"idx":5.09,"sinr":6.4},{"idx":5.092,"sinr":6.0},{"idx":5.094,"sinr":5.9},{"idx":5.0958,"sinr":5.2},{"idx":5.0976,"sinr":5.6},{"idx":5.0992,"sinr":6.1}],
"zoomB":[{"idx":7.325,"sinr":3.37},{"idx":7.3251,"sinr":2.7},{"idx":7.32518,"sinr":0.87},{"idx":7.32535,"sinr":2.83},{"idx":7.32551,"sinr":3.27},{"idx":7.32559,"sinr":2.57},{"idx":7.32571,"sinr":1.77},{"idx":7.32579,"sinr":3.69},{"idx":7.32591,"sinr":3.31},{"idx":7.32606,"sinr":1.48},{"idx":7.32616,"sinr":4.38},{"idx":7.32636,"sinr":3.03},{"idx":7.32646,"sinr":3.74},{"idx":7.32657,"sinr":2.42},{"idx":7.32663,"sinr":3.79},{"idx":7.32673,"sinr":2.1},{"idx":7.32681,"sinr":3.55},{"idx":7.32691,"sinr":1.81},{"idx":7.32713,"sinr":3.5},{"idx":7.32728,"sinr":1.56},{"idx":7.32748,"sinr":3.22},{"idx":7.32768,"sinr":4.44},{"idx":7.32779,"sinr":2.61},{"idx":7.32789,"sinr":4.35},{"idx":7.32803,"sinr":0.96},{"idx":7.32813,"sinr":3.08},{"idx":7.32823,"sinr":3.6},{"idx":7.32844,"sinr":2.47},{"idx":7.32856,"sinr":2.85},{"idx":7.3287,"sinr":0.69},{"idx":7.32896,"sinr":3.55},{"idx":7.32911,"sinr":1.49},{"idx":7.32945,"sinr":3.0},{"idx":7.32961,"sinr":3.55},{"idx":7.32972,"sinr":2.38},{"idx":7.32992,"sinr":3.69},{"idx":7.33006,"sinr":2.42},{"idx":7.33022,"sinr":3.46},{"idx":7.33043,"sinr":3.08},{"idx":7.33063,"sinr":3.41},{"idx":7.33073,"sinr":2.42},{"idx":7.33098,"sinr":3.31},{"idx":7.33114,"sinr":2.52},{"idx":7.33134,"sinr":0.95},{"idx":7.3314,"sinr":3.6},{"idx":7.33155,"sinr":3.92},{"idx":7.33169,"sinr":3.03},{"idx":7.33181,"sinr":1.5},{"idx":7.3322,"sinr":2.61},{"idx":7.33232,"sinr":3.83},{"idx":7.33246,"sinr":2.33},{"idx":7.33256,"sinr":1.44},{"idx":7.33266,"sinr":2.75},{"idx":7.33281,"sinr":2.42},{"idx":7.33293,"sinr":1.41},{"idx":7.33303,"sinr":2.75},{"idx":7.33317,"sinr":3.41},{"idx":7.33327,"sinr":3.74},{"idx":7.33344,"sinr":1.9},{"idx":7.33358,"sinr":3.0},{"idx":7.33372,"sinr":2.0},{"idx":7.33395,"sinr":3.74},{"idx":7.33413,"sinr":3.97},{"idx":7.33425,"sinr":3.08},{"idx":7.33443,"sinr":3.69},{"idx":7.3346,"sinr":2.23},{"idx":7.33474,"sinr":2.8},{"idx":7.3349,"sinr":2.82},{"idx":7.33498,"sinr":0.85},{"idx":7.33521,"sinr":3.64},{"idx":7.33535,"sinr":2.38},{"idx":7.33557,"sinr":2.38},{"idx":7.33571,"sinr":3.31},{"idx":7.33588,"sinr":0.5},{"idx":7.33604,"sinr":2.99},{"idx":7.33616,"sinr":2.42},{"idx":7.33632,"sinr":1.02},{"idx":7.33643,"sinr":4.11},{"idx":7.33657,"sinr":2.66},{"idx":7.33673,"sinr":2.85},{"idx":7.33697,"sinr":1.85},{"idx":7.33708,"sinr":3.6},{"idx":7.33724,"sinr":3.31},{"idx":7.33744,"sinr":3.64},{"idx":7.33767,"sinr":4.44},{"idx":7.33779,"sinr":3.03},{"idx":7.33795,"sinr":3.92},{"idx":7.33811,"sinr":2.19},{"idx":7.33826,"sinr":4.3},{"idx":7.3384,"sinr":1.67},{"idx":7.33856,"sinr":3.46},{"idx":7.33872,"sinr":3.0},{"idx":7.33886,"sinr":0.75},{"idx":7.33907,"sinr":2.89},{"idx":7.33921,"sinr":2.33},{"idx":7.33937,"sinr":4.41},{"idx":7.33953,"sinr":2.7},{"idx":7.33968,"sinr":3.5},{"idx":7.33988,"sinr":3.31},{"idx":7.34002,"sinr":2.42},{"idx":7.34019,"sinr":3.97},{"idx":7.34039,"sinr":2.52},{"idx":7.34055,"sinr":4.11},{"idx":7.34069,"sinr":3.0},{"idx":7.34084,"sinr":2.14},{"idx":7.34096,"sinr":3.92},{"idx":7.3411,"sinr":2.0},{"idx":7.3413,"sinr":3.5},{"idx":7.34145,"sinr":2.28},{"idx":7.34161,"sinr":3.22},{"idx":7.34181,"sinr":1.86},{"idx":7.34198,"sinr":3.03},{"idx":7.34216,"sinr":3.41},{"idx":7.34232,"sinr":2.33},{"idx":7.34252,"sinr":3.27},{"idx":7.34273,"sinr":2.14},{"idx":7.34287,"sinr":2.05},{"idx":7.34313,"sinr":3.55},{"idx":7.3433,"sinr":1.39},{"idx":7.34344,"sinr":2.42},{"idx":7.3436,"sinr":1.95},{"idx":7.34374,"sinr":3.31},{"idx":7.34395,"sinr":4.0},{"idx":7.34409,"sinr":2.33},{"idx":7.34425,"sinr":3.27},{"idx":7.34435,"sinr":1.9},{"idx":7.34452,"sinr":2.47},{"idx":7.3447,"sinr":2.61},{"idx":7.34482,"sinr":2.1},{"idx":7.345,"sinr":3.17},{"idx":7.32525,"sinr":2.9},{"idx":7.32543,"sinr":3.0},{"idx":7.32585,"sinr":2.8},{"idx":7.32598,"sinr":2.6},{"idx":7.32626,"sinr":3.1},{"idx":7.32687,"sinr":2.9},{"idx":7.32702,"sinr":2.7},{"idx":7.3272,"sinr":2.9},{"idx":7.32738,"sinr":2.9},{"idx":7.32758,"sinr":2.7},{"idx":7.32796,"sinr":3.2},{"idx":7.32835,"sinr":3.1},{"idx":7.32885,"sinr":2.9},{"idx":7.32925,"sinr":2.9},{"idx":7.32984,"sinr":2.7},{"idx":7.33014,"sinr":3.0},{"idx":7.33033,"sinr":2.8},{"idx":7.33053,"sinr":2.7},{"idx":7.33085,"sinr":3.0},{"idx":7.33106,"sinr":3.0},{"idx":7.33125,"sinr":2.6},{"idx":7.33175,"sinr":2.8},{"idx":7.33195,"sinr":2.3},{"idx":7.33273,"sinr":2.9},{"idx":7.33335,"sinr":2.7},{"idx":7.3335,"sinr":2.5},{"idx":7.33365,"sinr":2.4},{"idx":7.33405,"sinr":3.1},{"idx":7.33435,"sinr":2.9},{"idx":7.33452,"sinr":2.6},{"idx":7.33482,"sinr":2.5},{"idx":7.33507,"sinr":2.3},{"idx":7.33545,"sinr":2.5},{"idx":7.33565,"sinr":2.9},{"idx":7.33596,"sinr":1.9},{"idx":7.33625,"sinr":2.7},{"idx":7.33665,"sinr":3.0},{"idx":7.33685,"sinr":2.6},{"idx":7.33734,"sinr":3.0},{"idx":7.33755,"sinr":3.2},{"idx":7.33787,"sinr":3.3},{"idx":7.33803,"sinr":3.1},{"idx":7.33818,"sinr":3.0},{"idx":7.33834,"sinr":3.1},{"idx":7.33848,"sinr":2.8},{"idx":7.33864,"sinr":2.9},{"idx":7.33879,"sinr":2.6},{"idx":7.33897,"sinr":2.7},{"idx":7.33914,"sinr":3.0},{"idx":7.33929,"sinr":3.1},{"idx":7.33945,"sinr":3.0},{"idx":7.3396,"sinr":3.1},{"idx":7.33978,"sinr":2.9},{"idx":7.33995,"sinr":2.8},{"idx":7.3401,"sinr":3.2},{"idx":7.34029,"sinr":2.8},{"idx":7.34047,"sinr":3.0},{"idx":7.34062,"sinr":3.1},{"idx":7.34077,"sinr":2.6},{"idx":7.3409,"sinr":3.0},{"idx":7.34103,"sinr":2.8},{"idx":7.3412,"sinr":2.8},{"idx":7.34138,"sinr":2.9},{"idx":7.34153,"sinr":2.7},{"idx":7.34171,"sinr":2.5},{"idx":7.3419,"sinr":2.8},{"idx":7.34207,"sinr":2.9},{"idx":7.34224,"sinr":2.7},{"idx":7.34242,"sinr":2.9},{"idx":7.34262,"sinr":2.7},{"idx":7.343,"sinr":2.5},{"idx":7.34322,"sinr":2.7},{"idx":7.34337,"sinr":2.0},{"idx":7.34352,"sinr":2.4},{"idx":7.34367,"sinr":2.7},{"idx":7.34385,"sinr":3.1},{"idx":7.34402,"sinr":3.0},{"idx":7.34417,"sinr":2.8},{"idx":7.3443,"sinr":2.7},{"idx":7.34444,"sinr":2.3},{"idx":7.34461,"sinr":2.5},{"idx":7.34476,"sinr":2.4},{"idx":7.34491,"sinr":2.6}]
},
"layer":[
{"resolve":{"axis":{"x":"independent","y":"independent"}},
 "layer":[
 {"data":{"name":"upper"},"mark":{"type":"rule","color":"#00c1c1","strokeWidth":2.4,"strokeDash":[15,2]},
  "encoding":{"x":{"field":"idx","type":"quantitative","scale":{"domain":[0,7.4]},"axis":{"orient":"bottom","values":[0,1,2,3,4,5,6,7],"title":"Array Sorted Index","titleFontSize":35,"titlePadding":14,"labelFontSize":30,"tickSize":-16,"labelPadding":27,"zindex":1}},
  "y":{"field":"sinr","type":"quantitative","scale":{"domain":[0,8.5]},"axis":{"orient":"left","values":[0,1,2,3,4,5,6,7,8],"title":"Output SINR","titleFontSize":35,"titlePadding":12,"labelFontSize":30,"tickSize":-16,"labelPadding":25,"zindex":1}},
  "y2":{"datum":4}}},
 {"data":{"name":"lower"},"mark":{"type":"rule","color":"#00c1c1","strokeWidth":2.4,"strokeDash":[15,2]},
  "encoding":{"x":{"field":"idx","type":"quantitative","scale":{"domain":[0,7.4]},"axis":null},"y":{"field":"sinr","type":"quantitative","scale":{"domain":[0,8.5]},"axis":null},"y2":{"datum":3.5}}},
 {"data":{"name":"fringe"},"mark":{"type":"rule","color":"#00c1c1","strokeWidth":3.6,"strokeDash":[15,1.5]},
  "encoding":{"x":{"field":"idx","type":"quantitative","scale":{"domain":[0,7.4]},"axis":null},"y":{"field":"hi","type":"quantitative","scale":{"domain":[0,8.5]},"axis":null},"y2":{"datum":4}}},
 {"data":{"name":"fringe"},"mark":{"type":"rule","color":"#00c1c1","strokeWidth":3.6,"strokeDash":[15,1.5]},
  "encoding":{"x":{"field":"idx","type":"quantitative","scale":{"domain":[0,7.4]},"axis":null},"y":{"field":"lo","type":"quantitative","scale":{"domain":[0,8.5]},"axis":null},"y2":{"datum":3.5}}},
 {"data":{"name":"core"},"mark":{"type":"area","color":"#00c1c1"},
  "encoding":{"x":{"field":"idx","type":"quantitative","scale":{"domain":[0,7.4]},"axis":{"orient":"top","values":[0,1,2,3,4,5,6,7],"labels":false,"title":null,"tickSize":-16,"zindex":1}},
  "y":{"field":"hi","type":"quantitative","scale":{"domain":[0,8.5]},"axis":{"orient":"right","values":[0,1,2,3,4,5,6,7,8],"labels":false,"title":null,"tickSize":-16,"zindex":1}},
  "y2":{"field":"lo"}}},
 {"data":{"name":"specks"},"mark":{"type":"point","shape":"square","size":6,"filled":true,"color":"#ffffff","opacity":1,"strokeWidth":0},
  "encoding":{"x":{"field":"idx","type":"quantitative","scale":{"domain":[0,7.4]},"axis":null},"y":{"field":"sinr","type":"quantitative","scale":{"domain":[0,8.5]},"axis":null}}},
 {"data":{"values":[{"idx":0.263,"idx2":0.724,"sinr":8.106,"sinr2":6.65},{"idx":6.8,"idx2":7.21,"sinr":1.66,"sinr2":0.32}]},"mark":{"type":"rect","filled":false,"stroke":"#000000","strokeWidth":1},
  "encoding":{"x":{"field":"idx","type":"quantitative","scale":{"domain":[0,7.4]},"axis":null},"x2":{"field":"idx2"},"y":{"field":"sinr","type":"quantitative","scale":{"domain":[0,8.5]},"axis":null},"y2":{"field":"sinr2"}}},
 {"data":{"values":[{"idx":0.724,"idx2":1.672,"sinr":7.53,"sinr2":6.24},{"idx":6.8,"idx2":5.497,"sinr":1.15,"sinr2":2.36}]},"mark":{"type":"rule","color":"#000000","strokeWidth":1},
  "encoding":{"x":{"field":"idx","type":"quantitative","scale":{"domain":[0,7.4]},"axis":null},"x2":{"field":"idx2"},"y":{"field":"sinr","type":"quantitative","scale":{"domain":[0,8.5]},"axis":null},"y2":{"field":"sinr2"}}},
 {"data":{"values":[{"idx":1.672,"sinr":6.24}]},"mark":{"type":"point","shape":"M0,0 L-2,-1 L-1.4,0 L-2,1 Z","size":196,"angle":28.6,"filled":true,"color":"#000000","opacity":1,"strokeWidth":0},
  "encoding":{"x":{"field":"idx","type":"quantitative","scale":{"domain":[0,7.4]},"axis":null},"y":{"field":"sinr","type":"quantitative","scale":{"domain":[0,8.5]},"axis":null}}},
 {"data":{"values":[{"idx":5.497,"sinr":2.36}]},"mark":{"type":"point","shape":"M0,0 L-2,-1 L-1.4,0 L-2,1 Z","size":196,"angle":200.4,"filled":true,"color":"#000000","opacity":1,"strokeWidth":0},
  "encoding":{"x":{"field":"idx","type":"quantitative","scale":{"domain":[0,7.4]},"axis":null},"y":{"field":"sinr","type":"quantitative","scale":{"domain":[0,8.5]},"axis":null}}},
 {"data":{"values":[{"idx":0.494,"sinr":7.9},{"idx":7.006,"sinr":0.57}]},"mark":{"type":"point","shape":"M-1.5,0 A1.5,1 0 1 1 1.5,0 A1.5,1 0 1 1 -1.5,0 Z","size":317,"filled":false,"stroke":"#ff0000","strokeWidth":1,"opacity":1},
  "encoding":{"x":{"field":"idx","type":"quantitative","scale":{"domain":[0,7.4]},"axis":null},"y":{"field":"sinr","type":"quantitative","scale":{"domain":[0,8.5]},"axis":null}}},
 {"data":{"values":[{"idx":7.06,"sinr":-1.068,"label":"×10"}]},"mark":{"type":"text","align":"left","baseline":"alphabetic","fontSize":32,"color":"#262626"},
  "encoding":{"x":{"field":"idx","type":"quantitative","scale":{"domain":[0,7.4]},"axis":null},"y":{"field":"sinr","type":"quantitative","scale":{"domain":[0,8.5]},"axis":null},"text":{"field":"label"}}},
 {"data":{"values":[{"idx":7.34,"sinr":-0.874,"label":"5"}]},"mark":{"type":"text","align":"left","baseline":"alphabetic","fontSize":22,"color":"#262626"},
  "encoding":{"x":{"field":"idx","type":"quantitative","scale":{"domain":[0,7.4]},"axis":null},"y":{"field":"sinr","type":"quantitative","scale":{"domain":[0,8.5]},"axis":null},"text":{"field":"label"}}}
 ]},
{"resolve":{"axis":{"x":"independent","y":"independent"}},
 "layer":[
 {"data":{"values":[{"idx":4.9,"idx2":5.1,"sinr":2,"sinr2":9}]},"mark":{"type":"rect","fill":"white"},
  "encoding":{"x":{"field":"idx","type":"quantitative","scale":{"domain":[4.9,5.1],"range":[285.3,632.3]},"axis":{"orient":"bottom","offset":-350.3,"values":[4.9,4.95,5,5.05,5.1],"format":"~g","title":null,"labelFontSize":18,"tickSize":-3.5,"labelPadding":15,"zindex":1}},"x2":{"field":"idx2"},
  "y":{"field":"sinr","type":"quantitative","scale":{"domain":[2,9],"range":[394.3,210.6]},"axis":{"orient":"left","offset":-285.3,"values":[2,4,6,8],"format":"~g","title":null,"labelFontSize":18,"tickSize":-3.5,"labelPadding":9,"zindex":1}},"y2":{"field":"sinr2"}}},
 {"data":{"name":"zoomA"},"mark":{"type":"line","color":"#00c1c1","strokeWidth":1,"interpolate":"step-after"},
  "encoding":{"x":{"field":"idx","type":"quantitative","scale":{"domain":[4.9,5.1],"range":[285.3,632.3]},"axis":{"orient":"top","offset":-210.6,"values":[4.9,4.95,5,5.05,5.1],"labels":false,"title":null,"tickSize":-3.5,"zindex":1}},
  "y":{"field":"sinr","type":"quantitative","scale":{"domain":[2,9],"range":[394.3,210.6]},"axis":{"orient":"right","offset":-989.9,"values":[2,4,6,8],"labels":false,"title":null,"tickSize":-3.5,"zindex":1}}}},
 {"data":{"values":[{"idx":5.0035,"sinr":7.97}]},"mark":{"type":"point","shape":"M-1.5,0 A1.5,1 0 1 1 1.5,0 A1.5,1 0 1 1 -1.5,0 Z","size":317,"filled":false,"stroke":"#ff0000","strokeWidth":1,"opacity":1},
  "encoding":{"x":{"field":"idx","type":"quantitative","scale":{"domain":[4.9,5.1],"range":[285.3,632.3]},"axis":null},"y":{"field":"sinr","type":"quantitative","scale":{"domain":[2,9],"range":[394.3,210.6]},"axis":null}}},
 {"data":{"values":[{"idx":5.076,"sinr":-0.16,"label":"×10"}]},"mark":{"type":"text","align":"left","baseline":"alphabetic","fontSize":18,"color":"#262626"},
  "encoding":{"x":{"field":"idx","type":"quantitative","scale":{"domain":[4.9,5.1],"range":[285.3,632.3]},"axis":null},"y":{"field":"sinr","type":"quantitative","scale":{"domain":[2,9],"range":[394.3,210.6]},"axis":null},"text":{"field":"label"}}},
 {"data":{"values":[{"idx":5.095,"sinr":0.22,"label":"4"}]},"mark":{"type":"text","align":"left","baseline":"alphabetic","fontSize":13,"color":"#262626"},
  "encoding":{"x":{"field":"idx","type":"quantitative","scale":{"domain":[4.9,5.1],"range":[285.3,632.3]},"axis":null},"y":{"field":"sinr","type":"quantitative","scale":{"domain":[2,9],"range":[394.3,210.6]},"axis":null},"text":{"field":"label"}}}
 ]},
{"resolve":{"axis":{"x":"independent","y":"independent"}},
 "layer":[
 {"data":{"values":[{"idx":7.325,"idx2":7.345,"sinr":0,"sinr2":5}]},"mark":{"type":"rect","fill":"white"},
  "encoding":{"x":{"field":"idx","type":"quantitative","scale":{"domain":[7.325,7.345],"range":[1037.9,1365.9]},"axis":{"orient":"bottom","offset":-212.3,"values":[7.325,7.33,7.335,7.34,7.345],"format":"~g","title":null,"labelFontSize":18,"tickSize":-3.5,"labelPadding":15,"zindex":1}},"x2":{"field":"idx2"},
  "y":{"field":"sinr","type":"quantitative","scale":{"domain":[0,5],"range":[532.3,355.6]},"axis":{"orient":"left","offset":-1037.9,"values":[0,1,2,3,4,5],"format":"~g","title":null,"labelFontSize":18,"tickSize":-3.5,"labelPadding":9,"zindex":1}},"y2":{"field":"sinr2"}}},
 {"data":{"name":"zoomB"},"mark":{"type":"line","color":"#00c1c1","strokeWidth":1,"interpolate":"step-after"},
  "encoding":{"x":{"field":"idx","type":"quantitative","scale":{"domain":[7.325,7.345],"range":[1037.9,1365.9]},"axis":{"orient":"top","offset":-355.6,"values":[7.325,7.33,7.335,7.34,7.345],"labels":false,"title":null,"tickSize":-3.5,"zindex":1}},
  "y":{"field":"sinr","type":"quantitative","scale":{"domain":[0,5],"range":[532.3,355.6]},"axis":{"orient":"right","offset":-256.3,"values":[0,1,2,3,4,5],"labels":false,"title":null,"tickSize":-3.5,"zindex":1}}}},
 {"data":{"values":[{"idx":7.3359,"sinr":0.5}]},"mark":{"type":"point","shape":"M-1.5,0 A1.5,1 0 1 1 1.5,0 A1.5,1 0 1 1 -1.5,0 Z","size":317,"filled":false,"stroke":"#ff0000","strokeWidth":1,"opacity":1},
  "encoding":{"x":{"field":"idx","type":"quantitative","scale":{"domain":[7.325,7.345],"range":[1037.9,1365.9]},"axis":null},"y":{"field":"sinr","type":"quantitative","scale":{"domain":[0,5],"range":[532.3,355.6]},"axis":null}}},
 {"data":{"values":[{"idx":7.3425,"sinr":-1.61,"label":"×10"}]},"mark":{"type":"text","align":"left","baseline":"alphabetic","fontSize":18,"color":"#262626"},
  "encoding":{"x":{"field":"idx","type":"quantitative","scale":{"domain":[7.325,7.345],"range":[1037.9,1365.9]},"axis":null},"y":{"field":"sinr","type":"quantitative","scale":{"domain":[0,5],"range":[532.3,355.6]},"axis":null},"text":{"field":"label"}}},
 {"data":{"values":[{"idx":7.3445,"sinr":-1.33,"label":"5"}]},"mark":{"type":"text","align":"left","baseline":"alphabetic","fontSize":13,"color":"#262626"},
  "encoding":{"x":{"field":"idx","type":"quantitative","scale":{"domain":[7.325,7.345],"range":[1037.9,1365.9]},"axis":null},"y":{"field":"sinr","type":"quantitative","scale":{"domain":[0,5],"range":[532.3,355.6]},"axis":null},"text":{"field":"label"}}}
 ]}
],
"resolve":{"scale":{"x":"independent","y":"independent"}}
}
